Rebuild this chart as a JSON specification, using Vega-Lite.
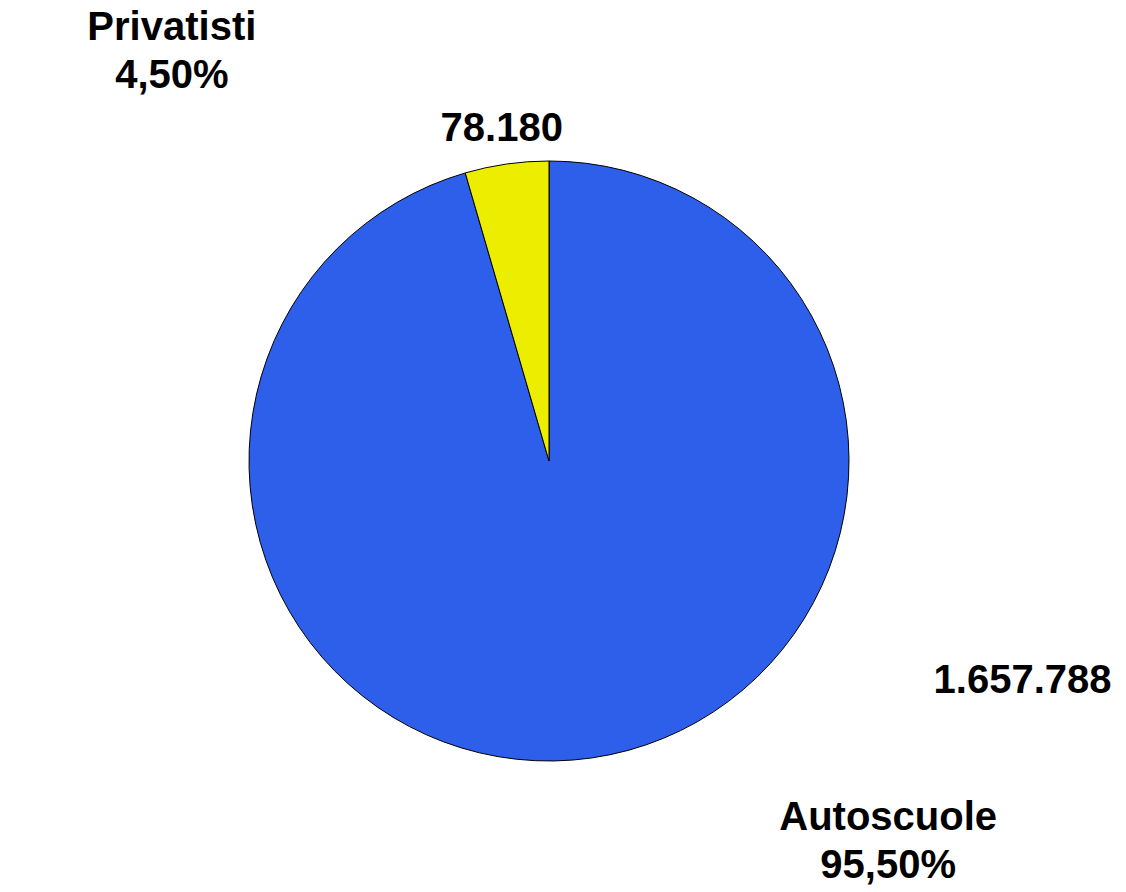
{
  "$schema": "https://vega.github.io/schema/vega-lite/v6.json",
  "autosize": {"type": "none"},
  "width": 1098,
  "height": 862,
  "padding": {"left": 0, "top": 30, "right": 28, "bottom": 0},
  "background": "white",
  "config": {
    "view": {"stroke": null},
    "locale": {"number": {"decimal": ",", "thousands": ".", "grouping": [3], "currency": ["", " €"]}},
    "text": {"font": "Liberation Sans", "fontWeight": "bold", "fontSize": 40, "fill": "#000000"}
  },
  "data": {
    "values": [
      {"cat": "Autoscuole", "value": 1657788, "pct": 0.955},
      {"cat": "Privatisti", "value": 78180, "pct": 0.045}
    ]
  },
  "encoding": {
    "theta": {"field": "value", "type": "quantitative", "stack": true},
    "detail": {"field": "cat", "type": "nominal"},
    "order": {"field": "cat", "type": "nominal", "sort": "ascending"}
  },
  "layer": [
    {
      "mark": {"type": "arc", "outerRadius": 300, "stroke": "#000000", "strokeWidth": 1},
      "encoding": {
        "color": {
          "field": "cat", "type": "nominal",
          "scale": {"domain": ["Autoscuole", "Privatisti"], "range": ["#2D5FEB", "#EDED00"]},
          "legend": null
        }
      }
    },
    {
      "mark": {"type": "text", "radius": 335, "align": "center", "baseline": "middle"},
      "encoding": {
        "text": {"field": "value", "type": "quantitative", "format": ",d"},
        "opacity": {"condition": {"test": "datum.cat === 'Privatisti'", "value": 1}, "value": 0}
      }
    },
    {
      "mark": {"type": "text", "radius": 522, "thetaOffset": -0.995, "align": "center", "baseline": "middle"},
      "encoding": {
        "text": {"field": "value", "type": "quantitative", "format": ",d"},
        "opacity": {"condition": {"test": "datum.cat === 'Autoscuole'", "value": 1}, "value": 0}
      }
    },
    {
      "mark": {"type": "text", "radius": 556, "thetaOffset": -0.604, "dy": -24, "align": "center", "baseline": "middle"},
      "encoding": {
        "text": {"field": "cat", "type": "nominal"},
        "opacity": {"condition": {"test": "datum.cat === 'Privatisti'", "value": 1}, "value": 0}
      }
    },
    {
      "mark": {"type": "text", "radius": 556, "thetaOffset": -0.604, "dy": 24, "align": "center", "baseline": "middle"},
      "encoding": {
        "text": {"field": "pct", "type": "quantitative", "format": ".2%"},
        "opacity": {"condition": {"test": "datum.cat === 'Privatisti'", "value": 1}, "value": 0}
      }
    },
    {
      "mark": {"type": "text", "radius": 510, "thetaOffset": -0.586, "dy": -24, "align": "center", "baseline": "middle"},
      "encoding": {
        "text": {"field": "cat", "type": "nominal"},
        "opacity": {"condition": {"test": "datum.cat === 'Autoscuole'", "value": 1}, "value": 0}
      }
    },
    {
      "mark": {"type": "text", "radius": 510, "thetaOffset": -0.586, "dy": 24, "align": "center", "baseline": "middle"},
      "encoding": {
        "text": {"field": "pct", "type": "quantitative", "format": ".2%"},
        "opacity": {"condition": {"test": "datum.cat === 'Autoscuole'", "value": 1}, "value": 0}
      }
    }
  ]
}
